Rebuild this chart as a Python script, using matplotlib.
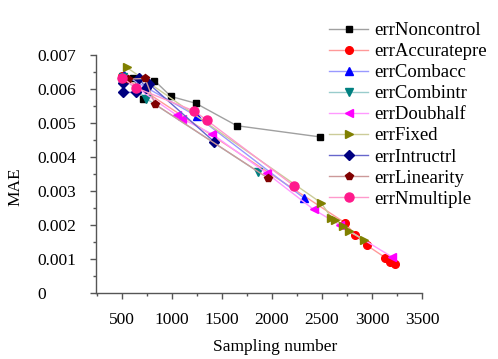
import matplotlib
matplotlib.use("Agg")
import matplotlib.pyplot as plt
from matplotlib.ticker import MultipleLocator, FuncFormatter

plt.rcParams['font.family'] = ['Liberation Serif', 'DejaVu Serif']

# ---- data (x: sampling number, y: MAE) ----
noncontrol_x = [505, 616, 710, 826, 993, 1240, 1650, 2483]
noncontrol_y = [0.00635, 0.00633, 0.00570, 0.00625, 0.00578, 0.00558, 0.00492, 0.00459]

accuratepre_x = [500, 2733, 2833, 2950, 3133, 3176, 3233]
accuratepre_y = [0.00638, 0.00206, 0.00170, 0.00140, 0.00104, 0.00092, 0.00085]

combacc_x = [520, 1250, 2326]
combacc_y = [0.00642, 0.00520, 0.00278]

combintr_x = [515, 743, 1866]
combintr_y = [0.00634, 0.00572, 0.00356]

doubhalf_x = [520, 1050, 1100, 1406, 1950, 2416, 2683, 3200]
doubhalf_y = [0.00630, 0.00523, 0.00513, 0.00467, 0.00352, 0.00246, 0.00199, 0.00106]

fixed_x = [548, 2493, 2593, 2633, 2710, 2766, 2916]
fixed_y = [0.00664, 0.00265, 0.00222, 0.00216, 0.00198, 0.00182, 0.00157]

intructrl_x = [510, 510, 643, 670, 743, 776, 1423]
intructrl_y = [0.00617, 0.00590, 0.00590, 0.00631, 0.00604, 0.00614, 0.00445]

linearity_x = [500, 566, 733, 833, 1966]
linearity_y = [0.00630, 0.00629, 0.00631, 0.00555, 0.00337]

nmultiple_x = [506, 638, 1226, 1350, 2226]
nmultiple_y = [0.00633, 0.00604, 0.00535, 0.00508, 0.00314]

labels = ['errNoncontrol', 'errAccuratepre', 'errCombacc', 'errCombintr',
          'errDoubhalf', 'errFixed', 'errIntructrl', 'errLinearity', 'errNmultiple']
xs = [noncontrol_x, accuratepre_x, combacc_x, combintr_x, doubhalf_x,
      fixed_x, intructrl_x, linearity_x, nmultiple_x]
ys = [noncontrol_y, accuratepre_y, combacc_y, combintr_y, doubhalf_y,
      fixed_y, intructrl_y, linearity_y, nmultiple_y]

markers = ['s', 'o', '^', 'v', '<', '>', 'D', 'p', 'o']
mcolors = ['#000000', '#ff0000', '#0000ff', '#008080', '#ff00ff',
           '#808000', '#000080', '#800000', '#ff1a8c']
lcolors = ['#a0a0a0', '#ff9999', '#9999ff', '#99cccc', '#ff99ff',
           '#cccc99', '#6666cc', '#cc9999', '#ff99cc']
msizes = [5, 5.5, 5.5, 5.5, 6, 6, 5, 6, 6.5]

fig = plt.figure(figsize=(4.98, 3.59), dpi=100)
ax = fig.add_axes([96/498, 1-293/359, 326/498, 238/359])

for x, y, lab, m, mc, lc, ms in zip(xs, ys, labels, markers, mcolors, lcolors, msizes):
    ax.plot(x, y, color=lc, lw=1.0, marker=m, markersize=ms,
            markerfacecolor=mc, markeredgecolor=mc, label=lab)

ax.set_xlim(243, 3500)
ax.set_ylim(0, 0.007)
ax.xaxis.set_minor_locator(MultipleLocator(250))
ax.yaxis.set_major_locator(MultipleLocator(0.001))
ax.yaxis.set_minor_locator(MultipleLocator(0.0005))
ax.set_xticks([500, 1000, 1500, 2000, 2500, 3000, 3500])
ax.yaxis.set_major_formatter(FuncFormatter(lambda v, p: '0' if abs(v) < 1e-12 else f'{v:.3f}'))

for s in ['top', 'right']:
    ax.spines[s].set_visible(False)
for s in ['left', 'bottom']:
    ax.spines[s].set_color('#555555')
    ax.spines[s].set_linewidth(1.0)

ax.tick_params(axis='both', which='major', direction='out', length=4, width=1,
               color='#555555', labelsize=12.5)
ax.tick_params(axis='both', which='minor', direction='out', length=2.5, width=1,
               color='#555555')
ax.tick_params(axis='x', which='major', pad=10)
ax.tick_params(axis='y', which='major', pad=38)
for t in ax.get_yticklabels():
    t.set_horizontalalignment('left')

ax.set_xlabel('Sampling number', fontsize=12.5)
ax.xaxis.set_label_coords(0.549, -0.195)
ax.set_ylabel('MAE', fontsize=12.5)
ax.yaxis.set_label_coords(-0.222, 0.445)

fig.legend(loc='upper left', bbox_to_anchor=(329/498, 1-22/359),
           frameon=False, fontsize=13.5, handlelength=2.1, handletextpad=0.3,
           labelspacing=0.21, borderaxespad=0, borderpad=0)

fig.savefig('out.png', dpi=100)
